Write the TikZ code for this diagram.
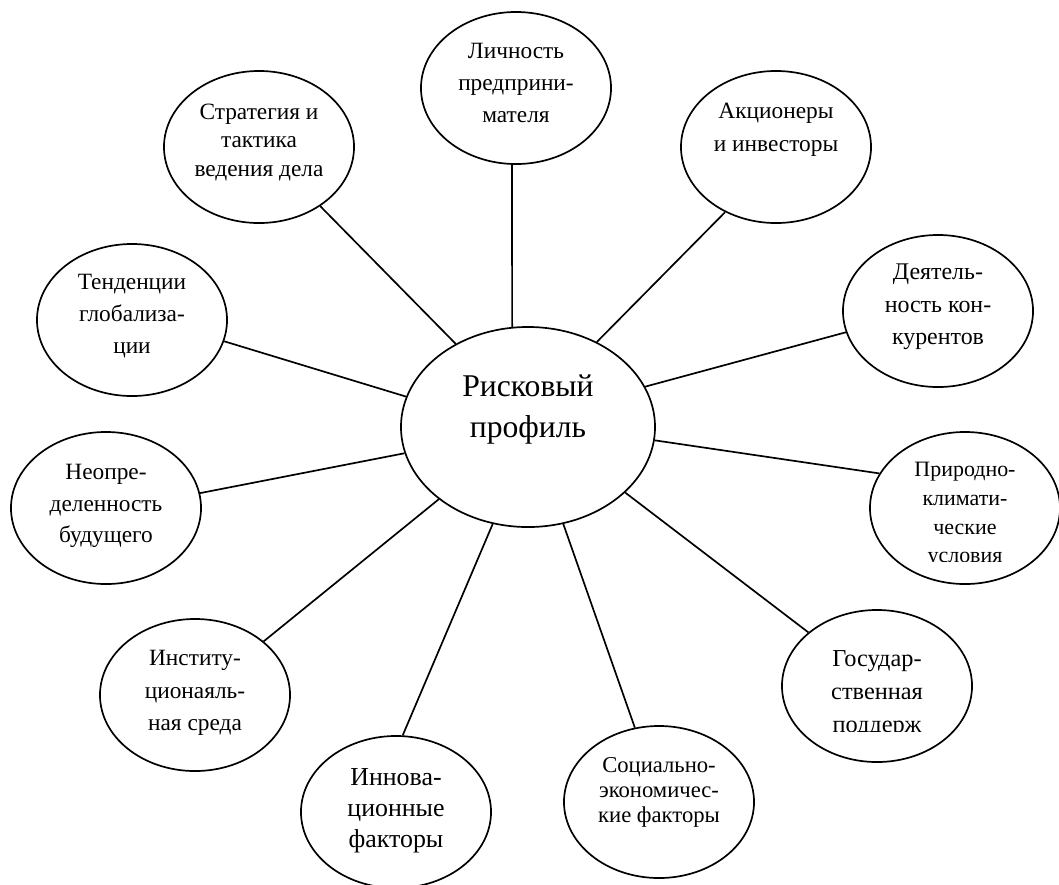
\documentclass[tikz,border=0pt]{standalone}
\usepackage{fontspec}
\setmainfont{Liberation Serif}
\usetikzlibrary{shapes.geometric}

\tikzset{
  bubble/.style={ellipse, draw, line width=1.2pt, minimum width=4.75cm, minimum height=3.8cm, inner sep=0pt},
  txt/.style={align=center, inner sep=0pt, font=\fontsize{16.6}{22.5}\selectfont},
  link/.style={line width=1.2pt},
}

\begin{document}
\begin{tikzpicture}[x=0.025cm, y=-0.025cm]
  \useasboundingbox (0,0) rectangle (1059,884);

  % Center
  \node[bubble, minimum width=6.35cm, minimum height=5cm] (risk) at (528,427) {};
  \node[txt, font=\fontsize{22.5}{28.5}\selectfont] at (528,409.5) {Рисковый\\профиль};

  % Bubbles
  \node[bubble] (strat) at (259,147) {};
  \node[txt, font=\fontsize{16.6}{20}\selectfont] at (259,142.5) {Стратегия и\\тактика\\ведения дела};

  \node[bubble] (lich) at (516,88) {};
  \node[txt, font=\fontsize{16.6}{23}\selectfont] at (516,83) {Личность\\предприни-\\мателя};

  \node[bubble] (akc) at (776,147) {};
  \node[txt, font=\fontsize{16.6}{23.5}\selectfont] at (776,129.5) {Акционеры\\и инвесторы};

  \node[bubble] (deyat) at (938,311) {};
  \node[txt, font=\fontsize{17}{23}\selectfont] at (938,307) {Деятель-\\ность кон-\\курентов};

  \node[bubble] (tend) at (132,320) {};
  \node[txt] at (132,316) {Тенденции\\глобализа-\\ции};

  \node[bubble] (neopr) at (106,508) {};
  \node[txt] at (106,506) {Неопре-\\деленность\\будущего};

  \node[bubble] (prir) at (965,508) {};
  \begin{scope}
    \clip (860,440) rectangle (1059,561);
    \node[txt, font=\fontsize{15.6}{20.4}\selectfont] at (965,515) {Природно-\\климати-\\ческие\\условия};
  \end{scope}

  \node[bubble] (inst) at (195,695) {};
  \node[txt, font=\fontsize{16.6}{23}\selectfont] at (195,693) {Институ-\\ционаяль-\\ная среда};

  \node[bubble] (innov) at (396,812) {};
  \node[txt, font=\fontsize{18.4}{22}\selectfont] at (396,811) {Иннова-\\ционные\\факторы};

  \node[bubble] (soc) at (659,802) {};
  \node[txt, font=\fontsize{16.1}{17.8}\selectfont] at (659,792) {Социально-\\экономичес-\\кие факторы};

  \node[bubble] (gos) at (877,686) {};
  \begin{scope}
    \clip (790,620) rectangle (970,731.5);
    \node[txt, font=\fontsize{17.3}{23.5}\selectfont] at (877,694.5) {Государ-\\ственная\\поддерж};
  \end{scope}

  % Links
  \draw[link] (risk.131) -- (strat.316);
  \draw[link] (risk.99) -- (lich.267);
  \draw[link] (risk.51) -- (akc.232);
  \draw[link] (risk.19) -- (deyat.193);
  \draw[link] (risk.166) -- (tend.347);
  \draw[link] (risk.192) -- (neopr.9);
  \draw[link] (risk.354) -- (prir.158);
  \draw[link] (risk.219) -- (inst.38);
  \draw[link] (risk.250) -- (innov.85);
  \draw[link] (risk.290) -- (soc.108);
  \draw[link] (risk.326) -- (gos.142);
\end{tikzpicture}
\end{document}
